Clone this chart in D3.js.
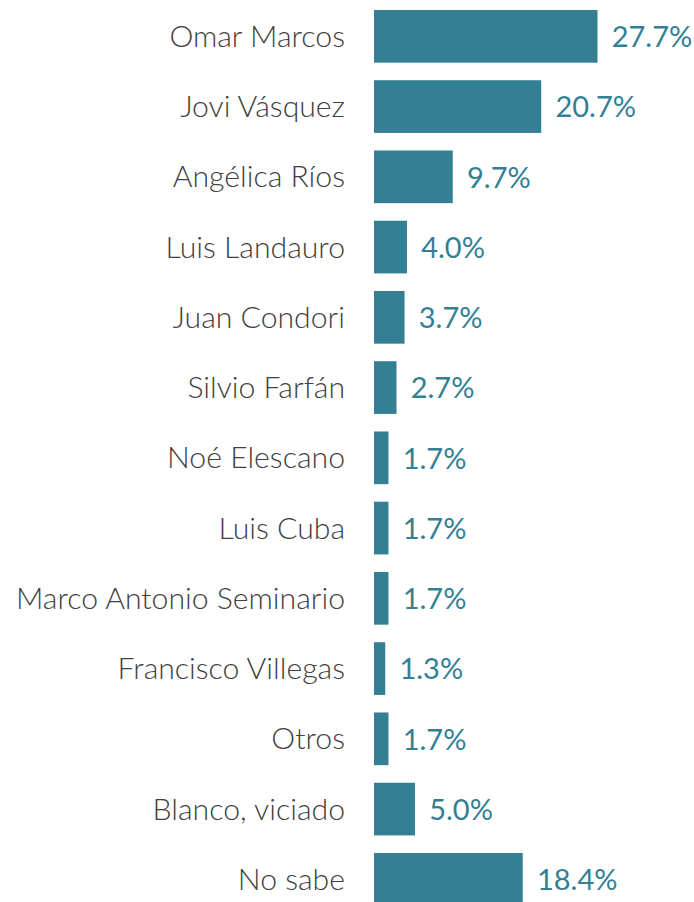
<!DOCTYPE html>
<html><head><meta charset="utf-8">
<script src="https://cdn.jsdelivr.net/npm/d3@7"></script>
<style>html,body{margin:0;padding:0;background:#fff;overflow:hidden}</style>
</head><body>
<svg id="chart" width="694" height="902"></svg>
<script>
const categories = ["Omar Marcos","Jovi Vásquez","Angélica Ríos","Luis Landauro","Juan Condori","Silvio Farfán","Noé Elescano","Luis Cuba","Marco Antonio Seminario","Francisco Villegas","Otros","Blanco, viciado","No sabe"];
const values = [27.7,20.7,9.7,4.0,3.7,2.7,1.7,1.7,1.7,1.3,1.7,5.0,18.4];
const valueLabels = ["27.7%","20.7%","9.7%","4.0%","3.7%","2.7%","1.7%","1.7%","1.7%","1.3%","1.7%","5.0%","18.4%"];

const data = categories.map((c,i)=>({c, v:values[i], l:valueLabels[i]}));
const svg = d3.select("#chart");
const x = d3.scaleLinear().domain([0,30]).range([374, 374+241.2]);
const y = d3.scaleBand().domain(categories).range([1.2, 1.2+13*70.25]).paddingInner(0.25).paddingOuter(0.125);
const font = "Lato, 'Open Sans', sans-serif";

svg.selectAll("rect.bar").data(data).join("rect")
  .attr("class","bar")
  .attr("x", x(0))
  .attr("y", d=>y(d.c))
  .attr("width", d=>x(d.v)-x(0)+0.8)
  .attr("height", y.bandwidth())
  .attr("fill","#337f93");

svg.selectAll("text.name").data(data).join("text")
  .attr("class","name")
  .attr("x", 345)
  .attr("y", d=>y(d.c)+y.bandwidth()/2)
  .attr("dy","0.35em")
  .attr("text-anchor","end")
  .attr("font-family", font)
  .attr("font-weight", 300)
  .attr("font-size", 30.2)
  .attr("fill","#404040")
  .text(d=>d.c);

svg.selectAll("text.val").data(data).join("text")
  .attr("class","val")
  .attr("x", d=>x(d.v)+15)
  .attr("y", d=>y(d.c)+y.bandwidth()/2)
  .attr("dy","0.37em")
  .attr("font-family", font)
  .attr("font-size", 29)
  .attr("fill","#337f93")
  .text(d=>d.l);
</script>
</body></html>
